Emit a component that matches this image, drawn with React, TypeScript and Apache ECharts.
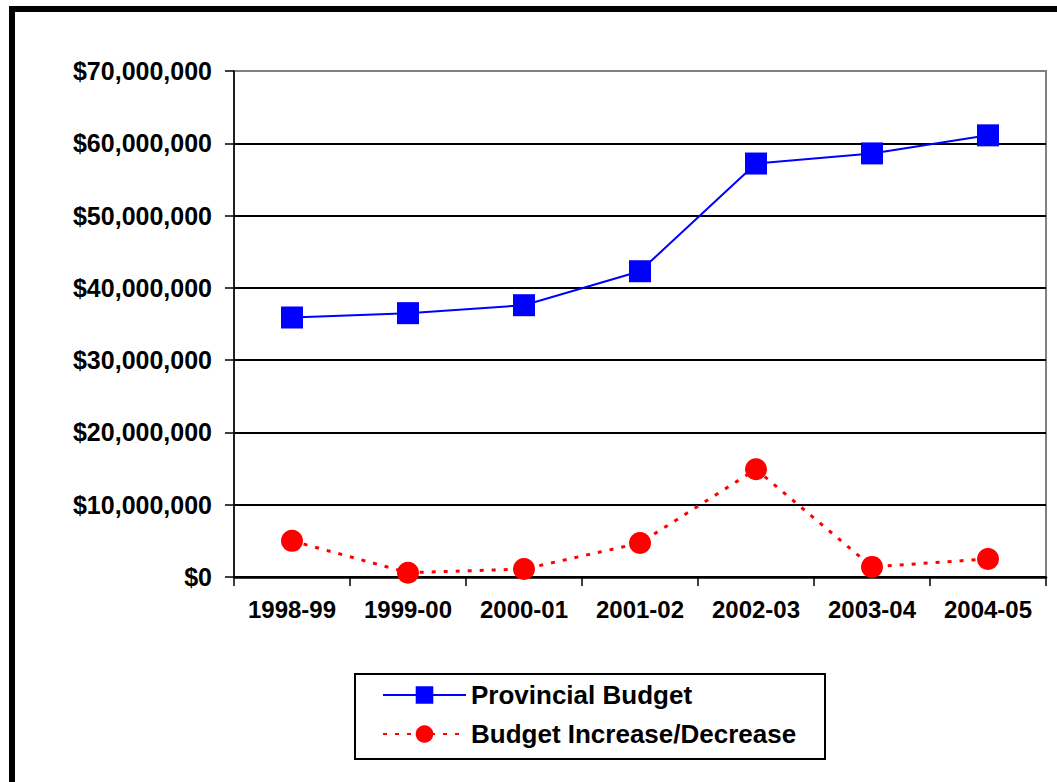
import React, { useEffect, useRef } from "react";
import * as echarts from "echarts";

const categories = ["1998-99", "1999-00", "2000-01", "2001-02", "2002-03", "2003-04", "2004-05"];
const provincialBudget = [35900000, 36500000, 37600000, 42300000, 57200000, 58600000, 61100000];
const budgetChange = [5000000, 600000, 1100000, 4700000, 14900000, 1400000, 2500000];
const seriesNames = ["Provincial Budget", "Budget Increase/Decrease"];

const FONT = "'Liberation Sans', Arial, sans-serif";

function fmtMoney(v: number): string {
  const s = Math.round(v).toString();
  return "$" + s.replace(/\B(?=(\d{3})+(?!\d))/g, ",");
}

export default function App() {
  const ref = useRef<HTMLDivElement>(null);
  useEffect(() => {
    if (!ref.current) return;
    const chart = echarts.init(ref.current, null, { renderer: "svg" });
    chart.setOption({
      animation: false,
      backgroundColor: "#ffffff",
      textStyle: { fontFamily: FONT },
      grid: {
        left: 234,
        right: 11,
        top: 71,
        bottom: 205,
        show: true,
        borderColor: "#808080",
        borderWidth: 2,
        backgroundColor: "transparent",
      },
      xAxis: {
        type: "category",
        data: categories,
        boundaryGap: true,
        axisLine: { show: true, lineStyle: { color: "#000", width: 2.5 } },
        axisTick: { show: true, length: 9, alignWithLabel: false, lineStyle: { color: "#000", width: 1.5 } },
        axisLabel: {
          color: "#000",
          fontWeight: "bold",
          fontSize: 24,
          fontFamily: FONT,
          margin: 20,
          interval: 0,
        },
        splitLine: { show: false },
      },
      yAxis: {
        type: "value",
        min: 0,
        max: 70000000,
        interval: 10000000,
        axisLine: { show: true, lineStyle: { color: "#000", width: 1.5 } },
        axisTick: { show: true, length: 9, lineStyle: { color: "#000", width: 1.5 } },
        axisLabel: {
          color: "#000",
          fontWeight: "bold",
          fontSize: 25,
          fontFamily: FONT,
          margin: 22,
          formatter: (v: number) => fmtMoney(v),
        },
        splitLine: {
          show: true,
          lineStyle: {
            color: ["#000", "#000", "#000", "#000", "#000", "#000", "#000", "#808080"],
            width: 2,
          },
        },
      },
      legend: {
        orient: "vertical",
        left: 382,
        top: 682,
        padding: 0,
        itemWidth: 83,
        itemHeight: 22,
        itemGap: 13,
        textStyle: { color: "#000", fontSize: 26, fontWeight: "bold", fontFamily: FONT },
        data: seriesNames,
      },
      graphic: [
        {
          type: "rect",
          shape: { x: 12, y: 9, width: 1200, height: 1000 },
          style: { fill: "none", stroke: "#000", lineWidth: 6 },
          silent: true,
          z: 100,
        },
        {
          type: "rect",
          shape: { x: 355, y: 674, width: 470, height: 85 },
          style: { fill: "none", stroke: "#000", lineWidth: 2 },
          silent: true,
          z: 100,
        },
      ],
      series: [
        {
          name: seriesNames[0],
          type: "line",
          data: provincialBudget,
          symbol: "rect",
          symbolSize: 22,
          itemStyle: { color: "#0000ff" },
          lineStyle: { color: "#0000ff", width: 2 },
          z: 3,
        },
        {
          name: seriesNames[1],
          type: "line",
          data: budgetChange,
          symbol: "circle",
          symbolSize: 22,
          itemStyle: { color: "#ff0000" },
          lineStyle: { color: "#ff0000", width: 3, type: [4, 8] },
          z: 3,
        },
      ],
    });
    return () => chart.dispose();
  }, []);
  return (
    <div
      ref={ref}
      style={{ position: "fixed", left: 0, top: 0, width: 1057, height: 782 }}
    />
  );
}
